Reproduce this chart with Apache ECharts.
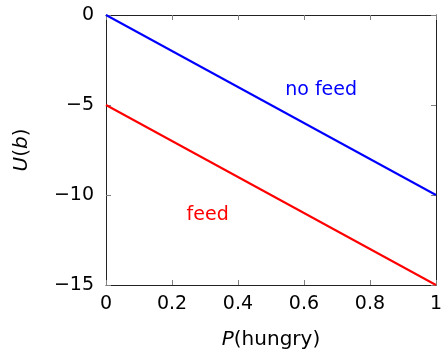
<!DOCTYPE html>
<html>
<head>
<meta charset="utf-8">
<script src="https://cdn.jsdelivr.net/npm/echarts@6/dist/echarts.min.js"></script>
<style>
  html, body { margin: 0; padding: 0; background: #fff; }
  #chart { width: 445px; height: 355px; }
</style>
</head>
<body>
<div id="chart"></div>
<script>
// Data
var probHungry = [0, 1];
var noFeedValues = [0, -10];
var feedValues = [-5, -15];
var xTicks = [0, 0.2, 0.4, 0.6, 0.8, 1];
var yTicks = [0, -5, -10, -15];
var noFeedLabelPos = [0.652, -4.15];
var feedLabelPos = [0.308, -11.1];

var fontFamily = 'DejaVu Sans, sans-serif';
var tickLen = 5;
var tickColor = '#808080';

var chart = echarts.init(document.getElementById('chart'));

var makeLine = function() {
    return { show: true, onZero: false, lineStyle: { color: '#222', width: 1 } };
};

var pairs = function(xs, ys) {
    return xs.map(function(x, i) { return [x, ys[i]]; });
};

// Inside ticks on all four sides of the frame, placed through the axes
var renderXTick = function(params, api) {
    var v = api.value(0);
    var bottom = api.coord([v, -15]);
    var top = api.coord([v, 0]);
    var x = Math.round(bottom[0]) + 0.5;
    var style = { stroke: tickColor, lineWidth: 1 };
    return {
        type: 'group',
        children: [
            { type: 'line', shape: { x1: x, y1: bottom[1], x2: x, y2: bottom[1] - tickLen }, style: style },
            { type: 'line', shape: { x1: x, y1: top[1], x2: x, y2: top[1] + tickLen }, style: style }
        ]
    };
};
var renderYTick = function(params, api) {
    var v = api.value(1);
    var left = api.coord([0, v]);
    var right = api.coord([1, v]);
    var y = Math.round(left[1]) + 0.5;
    var style = { stroke: tickColor, lineWidth: 1 };
    return {
        type: 'group',
        children: [
            { type: 'line', shape: { x1: left[0], y1: y, x2: left[0] + tickLen, y2: y }, style: style },
            { type: 'line', shape: { x1: right[0], y1: y, x2: right[0] - tickLen, y2: y }, style: style }
        ]
    };
};

chart.setOption({
    animation: false,
    textStyle: { fontFamily: fontFamily },
    grid: { left: 106, right: 5, top: 15, bottom: 68 },
    xAxis: [{
        type: 'value',
        min: 0, max: 1, interval: 0.2,
        position: 'bottom',
        name: '{i|P}(hungry)',
        nameLocation: 'middle',
        nameGap: 45,
        nameTextStyle: {
            fontSize: 20, color: '#000', fontFamily: fontFamily,
            rich: { i: { fontStyle: 'italic', fontSize: 20, fontFamily: fontFamily } }
        },
        axisLine: makeLine(),
        axisTick: { show: false },
        axisLabel: {
            fontSize: 19, color: '#000', margin: 10,
            formatter: function(v) { return xTicks.indexOf(+v.toFixed(1)) >= 0 ? String(+v.toFixed(1)) : ''; }
        },
        splitLine: { show: false }
    }, {
        type: 'value',
        min: 0, max: 1, interval: 0.2,
        position: 'top',
        axisLine: makeLine(),
        axisTick: { show: false },
        axisLabel: { show: false },
        splitLine: { show: false }
    }],
    yAxis: [{
        type: 'value',
        min: -15, max: 0, interval: 5,
        position: 'left',
        name: '{i|U}({i|b})',
        nameLocation: 'middle',
        nameGap: 74,
        nameRotate: 90,
        nameTextStyle: {
            fontSize: 20, color: '#000', fontFamily: fontFamily,
            rich: { i: { fontStyle: 'italic', fontSize: 20, fontFamily: fontFamily } }
        },
        axisLine: makeLine(),
        axisTick: { show: false },
        axisLabel: {
            fontSize: 19, color: '#000', margin: 12,
            formatter: function(v) { return yTicks.indexOf(v) >= 0 ? String(v).replace('-', '\u2212') : ''; }
        },
        splitLine: { show: false }
    }, {
        type: 'value',
        min: -15, max: 0, interval: 5,
        position: 'right',
        axisLine: makeLine(),
        axisTick: { show: false },
        axisLabel: { show: false },
        splitLine: { show: false }
    }],
    series: [{
        type: 'custom',
        silent: true,
        clip: false,
        renderItem: renderXTick,
        data: xTicks.map(function(v) { return [v, -15]; }),
        z: 1
    }, {
        type: 'custom',
        silent: true,
        clip: false,
        renderItem: renderYTick,
        data: yTicks.map(function(v) { return [0, v]; }),
        z: 1
    }, {
        name: 'no feed',
        type: 'line',
        data: pairs(probHungry, noFeedValues),
        symbol: 'none',
        lineStyle: { color: '#0000ff', width: 2 },
        z: 3
    }, {
        name: 'feed',
        type: 'line',
        data: pairs(probHungry, feedValues),
        symbol: 'none',
        lineStyle: { color: '#ff0000', width: 2 },
        z: 3
    }, {
        type: 'scatter',
        symbolSize: 0,
        itemStyle: { opacity: 1, color: 'transparent' },
        data: [{ value: noFeedLabelPos, label: { formatter: 'no feed', color: '#0000ff' } },
               { value: feedLabelPos, label: { formatter: 'feed', color: '#ff0000' } }],
        label: { show: true, position: 'inside', fontSize: 19, fontFamily: fontFamily },
        silent: true
    }]
});
</script>
</body>
</html>
